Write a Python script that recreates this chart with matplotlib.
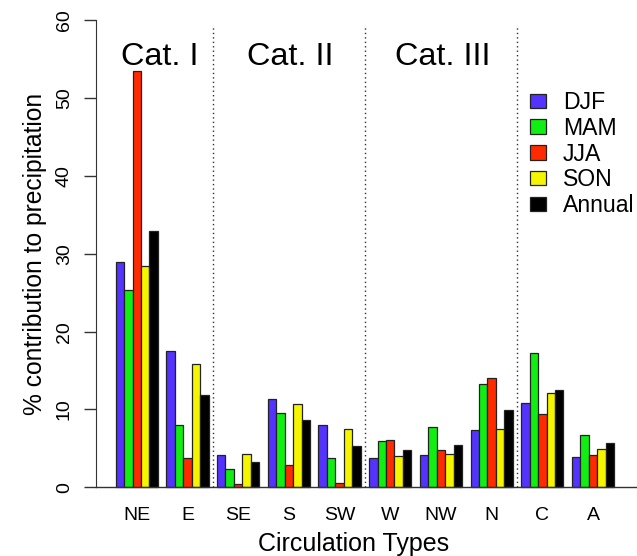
import matplotlib
matplotlib.use('Agg')

import matplotlib.pyplot as plt
from matplotlib.patches import Patch
import numpy as np

plt.rcParams['font.family'] = ['Liberation Sans', 'DejaVu Sans']

types = ['NE', 'E', 'SE', 'S', 'SW', 'W', 'NW', 'N', 'C', 'A']
seasons = ['DJF', 'MAM', 'JJA', 'SON', 'Annual']
colors = ['#5533ff', '#11ee11', '#ff2a00', '#f5f500', '#000000']

djf    = [29.0, 17.5, 4.1, 11.4, 8.0, 3.7, 4.1, 7.4, 10.8, 3.9]
mam    = [25.3, 8.0, 2.3, 9.6, 3.8, 6.0, 7.7, 13.3, 17.2, 6.7]
jja    = [53.5, 3.8, 0.4, 2.9, 0.6, 6.1, 4.8, 14.1, 9.4, 4.2]
son    = [28.5, 15.9, 4.3, 10.7, 7.5, 4.0, 4.3, 7.5, 12.1, 4.9]
annual = [32.9, 11.8, 3.2, 8.7, 5.3, 4.8, 5.4, 9.9, 12.5, 5.7]
series = [djf, mam, jja, son, annual]

cat_labels = ['Cat. I', 'Cat. II', 'Cat. III']

fig = plt.figure(figsize=(6.37, 5.56), dpi=100)
ax = fig.add_axes([96/637, 1 - 505.9/556, 541/637, 504.1/556])

# R-style beside barplot: 5 bars per group, one bar-width space between groups
group_start = 1 + 6*np.arange(len(types))
for j, vals in enumerate(series):
    ax.bar(group_start + j, vals, width=1, align='edge', color=colors[j],
           edgecolor='#222222', linewidth=0.9)

# dotted separators between categories
for xs in [12.5, 30.5, 48.5]:
    ax.plot([xs, xs], [0, 59.2], color='#333333', linestyle=(0, (1, 2.2)), linewidth=1.0)

ax.axhline(0, color='#333333', linewidth=1.0, clip_on=False)

for lab, xc in zip(cat_labels, [6.19, 21.7, 39.7]):
    ax.text(xc, 54.3, lab, fontsize=23.3, ha='center', va='baseline')

ax.set_xlim(-1.325, 62.70)
ax.set_ylim(-2.4, 62.4)

for s in ['top', 'right', 'bottom']:
    ax.spines[s].set_visible(False)
ax.spines['left'].set_bounds(0, 60)
ax.spines['left'].set_color('#333333')

ax.set_yticks(np.arange(0, 61, 10))
ax.tick_params(axis='y', length=8.6, width=1.0, color='#333333', pad=8.0,
               labelsize=14, labelrotation=90)
for t in ax.get_yticklabels():
    t.set_va('center')

ax.set_xticks(group_start + 2.5)
ax.set_xticklabels(types)
ax.tick_params(axis='x', length=0, pad=0.5, labelsize=14)

ax.set_xlabel('Circulation Types', fontsize=18)
ax.xaxis.set_label_coords((354 - 96) / 541, (505.9 - 556) / 504.1, transform=ax.transAxes)
ax.xaxis.label.set_va('bottom')
ax.set_ylabel('% contribution to precipitation', fontsize=17.7)
ax.yaxis.set_label_coords((47 - 96) / 541, 0.5)

handles = [Patch(facecolor=c, edgecolor='#222222', linewidth=0.9) for c in colors]
ax.legend(handles, seasons, loc='upper left', bbox_to_anchor=(530/637, 1 - 91/556),
          bbox_transform=fig.transFigure, frameon=False, fontsize=16.6,
          handlelength=0.7, handleheight=0.58, handletextpad=0.72,
          labelspacing=0.12, borderpad=0, borderaxespad=0)

plt.savefig('out.png', dpi=100)
